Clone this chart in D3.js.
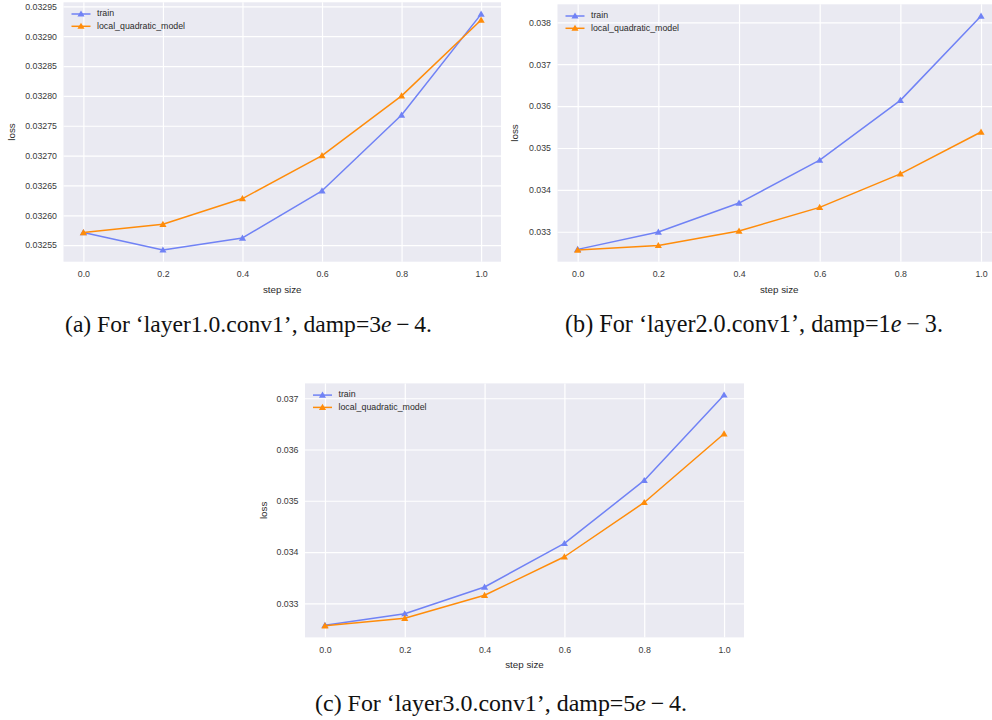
<!DOCTYPE html>
<html>
<head>
<meta charset="utf-8">
<script src="https://cdn.jsdelivr.net/npm/d3@7"></script>
<style>
  html, body { margin: 0; padding: 0; background: #ffffff; }
  svg { display: block; }
</style>
</head>
<body>
<svg id="chart" width="992" height="720"></svg>
<script>
// ---------------- data ----------------
const stepSizes = [0.0, 0.2, 0.4, 0.6, 0.8, 1.0];
const xTickValues = [0.0, 0.2, 0.4, 0.6, 0.8, 1.0];
const seriesNames = ["train", "local_quadratic_model"];

const trainA = [0.032571, 0.032542, 0.032562, 0.032641, 0.032768, 0.032937];
const quadA  = [0.032571, 0.032585, 0.032628, 0.032700, 0.032800, 0.032927];
const yTicksA = [0.03255, 0.03260, 0.03265, 0.03270, 0.03275, 0.03280, 0.03285, 0.03290, 0.03295];

const trainB = [0.032580, 0.032993, 0.033685, 0.034709, 0.036136, 0.038150];
const quadB  = [0.032565, 0.032675, 0.033017, 0.033582, 0.034382, 0.035382];
const yTicksB = [0.033, 0.034, 0.035, 0.036, 0.037, 0.038];

const trainC = [0.032571, 0.032797, 0.033318, 0.034168, 0.035396, 0.037064];
const quadC  = [0.032560, 0.032707, 0.033156, 0.033908, 0.034967, 0.036306];
const yTicksC = [0.033, 0.034, 0.035, 0.036, 0.037];

const captionLabels = ["(a)", "(b)", "(c)"];
const captionLayers = ["layer1.0.conv1", "layer2.0.conv1", "layer3.0.conv1"];
const captionDamps = [["3", "4"], ["1", "3"], ["5", "4"]];

// ---------------- layout / style ----------------
const svg = d3.select("#chart");
const colors = ["#7082f5", "#ff8c0a"];
const panels = [
  { train: trainA, quad: quadA, yTicks: yTicksA, fmt: d3.format(".5f"),
    box: { l: 63.5, r: 501, t: 2.3, b: 261.7 }, cap: { x: 248.5, y: 331.5, w: 367 }, lossX: 12 },
  { train: trainB, quad: quadB, yTicks: yTicksB, fmt: d3.format(".3f"),
    box: { l: 557.5, r: 1001.2, t: 4.3, b: 261.7 }, cap: { x: 754, y: 331.5, w: 378 }, lossX: 515.5 },
  { train: trainC, quad: quadC, yTicks: yTicksC, fmt: d3.format(".3f"),
    box: { l: 305, r: 744, t: 383.4, b: 637.4 }, cap: { x: 501, y: 711, w: 372 }, lossX: 264.5 }
];

const sans = "'Liberation Sans', Arial, sans-serif";
const tri = d3.symbol().type(d3.symbolTriangle).size(22);

panels.forEach((p, i) => {
  const bx = p.box;
  const all = p.train.concat(p.quad);
  const lo = d3.min(all), hi = d3.max(all), pad = (hi - lo) * 0.05;
  const x = d3.scaleLinear().domain([-0.05, 1.05]).range([bx.l, bx.r]);
  const y = d3.scaleLinear().domain([lo - pad, hi + pad]).range([bx.b, bx.t]);

  const g = svg.append("g");
  g.append("rect").attr("x", bx.l).attr("y", bx.t)
    .attr("width", bx.r - bx.l).attr("height", bx.b - bx.t).attr("fill", "#eaeaf2");

  // grid via axes
  const gx = g.append("g").attr("transform", `translate(0,${bx.b})`)
    .call(d3.axisBottom(x).tickValues(xTickValues).tickFormat(d3.format(".1f"))
      .tickSize(-(bx.b - bx.t)).tickPadding(9));
  const gy = g.append("g").attr("transform", `translate(${bx.l},0)`)
    .call(d3.axisLeft(y).tickValues(p.yTicks).tickFormat(p.fmt)
      .tickSize(-(bx.r - bx.l)).tickPadding(6.5));
  [gx, gy].forEach(ax => {
    ax.select(".domain").remove();
    ax.selectAll(".tick line").attr("stroke", "#ffffff").attr("stroke-width", 1.2);
    ax.selectAll(".tick text").attr("fill", "#3a3a3a")
      .style("font-family", sans).style("font-size", "8.8px");
  });

  // axis labels
  g.append("text").attr("x", (bx.l + Math.min(bx.r, 992 + 9)) / 2).attr("y", bx.b + 31)
    .attr("text-anchor", "middle").attr("fill", "#2a2a2a")
    .style("font-family", sans).style("font-size", "9.8px").text("step size");
  g.append("text")
    .attr("transform", `translate(${p.lossX},${(bx.t + bx.b) / 2}) rotate(-90)`)
    .attr("text-anchor", "middle").attr("dominant-baseline", "middle").attr("fill", "#2a2a2a")
    .style("font-family", sans).style("font-size", "9.8px").text("loss");

  // lines + markers
  [p.train, p.quad].forEach((vals, si) => {
    const pts = stepSizes.map((s, k) => [s, vals[k]]);
    g.append("path").datum(pts)
      .attr("fill", "none").attr("stroke", colors[si]).attr("stroke-width", 1.5)
      .attr("stroke-linejoin", "round")
      .attr("d", d3.line().x(d => x(d[0])).y(d => y(d[1])));
    g.selectAll(null).data(pts).enter().append("path")
      .attr("d", tri).attr("fill", colors[si])
      .attr("transform", d => `translate(${x(d[0])},${y(d[1]) + 0.6})`);
  });

  // legend
  seriesNames.forEach((name, si) => {
    const ly = bx.t + 11.7 + si * 12.3;
    const lx = bx.l + 8;
    g.append("line").attr("x1", lx).attr("x2", lx + 19).attr("y1", ly).attr("y2", ly)
      .attr("stroke", colors[si]).attr("stroke-width", 1.5);
    g.append("path").attr("d", tri).attr("fill", colors[si])
      .attr("transform", `translate(${lx + 9.5},${ly + 0.5})`);
    g.append("text").attr("x", lx + 25.5).attr("y", ly).attr("dominant-baseline", "middle")
      .attr("fill", "#2a2a2a").style("font-family", sans).style("font-size", "8.8px").text(name);
  });

  // caption
  const cap = svg.append("text").attr("x", p.cap.x).attr("y", p.cap.y)
    .attr("text-anchor", "middle").attr("fill", "#111")
    .style("font-family", "'Liberation Serif', 'Times New Roman', serif").style("font-size", "20px");
  cap.append("tspan").text(`${captionLabels[i]} For \u2018${captionLayers[i]}\u2019, damp=${captionDamps[i][0]}`);
  cap.append("tspan").style("font-style", "italic").text("e");
  cap.append("tspan").text(`\u2009\u2212\u2009${captionDamps[i][1]}.`);
  const w = cap.node().getComputedTextLength();
  if (w > 0) cap.style("font-size", (20 * p.cap.w / w).toFixed(2) + "px");
});
</script>
</body>
</html>
